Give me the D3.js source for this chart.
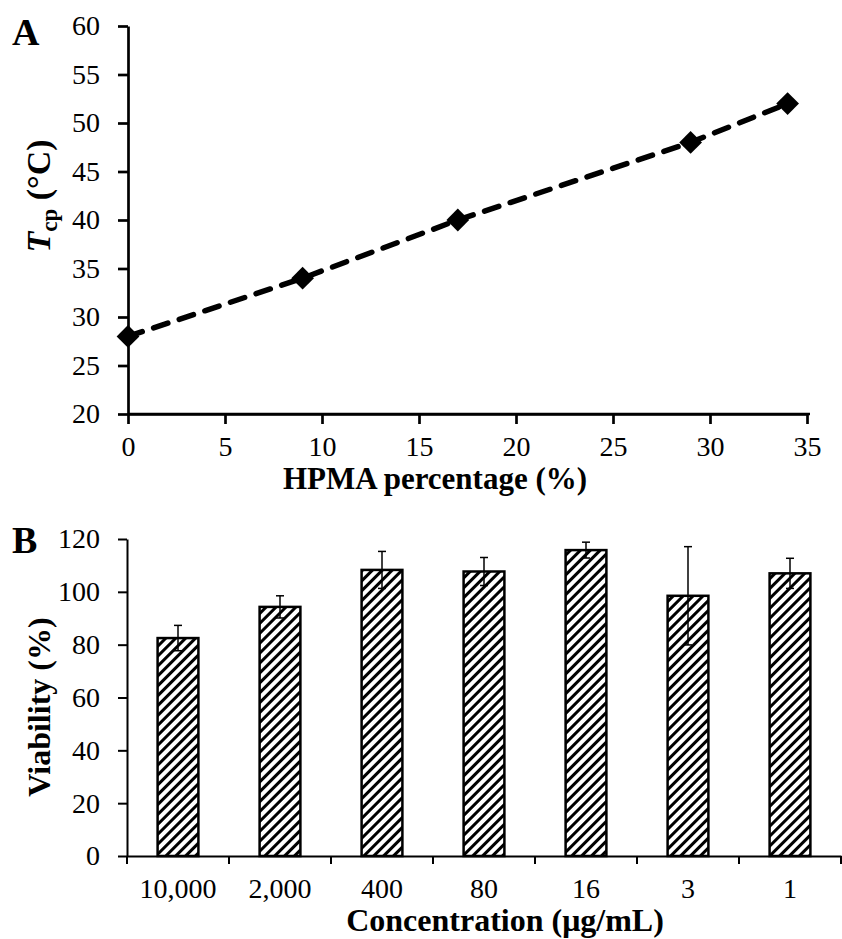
<!DOCTYPE html>
<html>
<head>
<meta charset="utf-8">
<script src="https://cdn.jsdelivr.net/npm/d3@7"></script>
<style>
	body { margin: 0; background: #ffffff; }
	svg text { font-family: "Liberation Serif", "Times New Roman", serif; fill: #000000; }
</style>
</head>
<body>
<svg id="chart_Area" width="842" height="939"></svg>
<script>

/* PANEL A DATA */
var hpma_Percentage = [0, 9, 17, 29, 34];
var cloud_Point = [28, 34, 40, 48, 52];
var a_X_Ticks = [0, 5, 10, 15, 20, 25, 30, 35];
var a_Y_Ticks = [20, 25, 30, 35, 40, 45, 50, 55, 60];

/* PANEL B DATA */
var concentration_Labels = ["10,000", "2,000", "400", "80", "16", "3", "1"];
var viability_Values = [82.5, 94.3, 108.3, 107.7, 115.8, 98.5, 107.0];
var viability_Errors = [4.8, 4.2, 7.0, 5.3, 3.0, 18.6, 5.7];
var b_Y_Ticks = [0, 20, 40, 60, 80, 100, 120];

var svg = d3.select("#chart_Area");

/* hatch fill used by the bars */
var defs = svg.append("defs");
defs.append("pattern")
	.attr("id", "hatch_Fill")
	.attr("patternUnits", "userSpaceOnUse")
	.attr("width", 7)
	.attr("height", 7)
	.attr("patternTransform", "rotate(45)")
	.call(function(pattern){
		pattern.append("rect").attr("width", 7).attr("height", 7).attr("fill", "#ffffff");
		pattern.append("line")
			   .attr("x1", 1.5).attr("x2", 1.5)
			   .attr("y1", 0).attr("y2", 7)
			   .attr("stroke", "#000000")
			   .attr("stroke-width", 3);
	});

/*
	PANEL A : cloud point against HPMA percentage
*/
var a_X = d3.scaleLinear().domain([0, 35]).range([128, 807]);
var a_Y = d3.scaleLinear().domain([20, 60]).range([414, 26]);

var a_X_Axis = svg.append("g")
	.attr("transform", "translate(0," + a_Y(20) + ")")
	.call(d3.axisBottom(a_X).tickValues(a_X_Ticks).tickSize(10).tickSizeOuter(0).tickPadding(12));

var a_Y_Axis = svg.append("g")
	.attr("transform", "translate(" + a_X(0) + ",0)")
	.call(d3.axisLeft(a_Y).tickValues(a_Y_Ticks).tickSize(10).tickSizeOuter(0).tickPadding(18));

[a_X_Axis, a_Y_Axis].forEach(function(axis){
	axis.select(".domain").attr("stroke", "#000000").attr("stroke-width", 2.7);
	axis.selectAll(".tick line").attr("stroke", "#000000").attr("stroke-width", 2.7);
	axis.selectAll(".tick text").style("font-size", "28px").attr("fill", "#000000");
});

/* x axis line reaches a little past last tick */
svg.append("line")
	.attr("x1", a_X(0)).attr("x2", a_X(35) + 3)
	.attr("y1", a_Y(20)).attr("y2", a_Y(20))
	.attr("stroke", "#000000").attr("stroke-width", 2.7);

var a_Points = hpma_Percentage.map(function(value, index){ return [value, cloud_Point[index]]; });

svg.append("path")
	.datum(a_Points)
	.attr("fill", "none")
	.attr("stroke", "#000000")
	.attr("stroke-width", 5.5)
	.attr("stroke-linecap", "round")
	.attr("stroke-dasharray", "15,12")
	.attr("d", d3.line().x(function(d){ return a_X(d[0]); }).y(function(d){ return a_Y(d[1]); }));

svg.selectAll(".diamond_Marker")
	.data(a_Points)
	.enter().append("path")
	.attr("class", "diamond_Marker")
	.attr("fill", "#000000")
	.attr("transform", function(d){ return "translate(" + a_X(d[0]) + "," + a_Y(d[1]) + ")"; })
	.attr("d", d3.symbol().type(d3.symbolDiamond2).size(330));

svg.append("text")
	.attr("x", 12).attr("y", 45)
	.style("font-size", "38px").style("font-weight", "bold")
	.text("A");

svg.append("text")
	.attr("transform", "translate(50,196) rotate(-90)")
	.attr("text-anchor", "middle")
	.style("font-size", "34px").style("font-weight", "bold")
	.call(function(label){
		label.append("tspan").style("font-style", "italic").text("T");
		label.append("tspan").attr("dy", 7).style("font-size", "23px").text("cp");
		label.append("tspan").attr("dy", -7).text(" (°C)");
	});

svg.append("text")
	.attr("x", 435).attr("y", 489)
	.attr("text-anchor", "middle")
	.style("font-size", "31px").style("font-weight", "bold")
	.text("HPMA percentage (%)");

/*
	PANEL B : cell viability against concentration
*/
var b_X = d3.scaleBand().domain(concentration_Labels).range([127, 841]).paddingInner(0.6).paddingOuter(0.3);
var b_Y = d3.scaleLinear().domain([0, 120]).range([856, 539]);

var b_X_Axis = svg.append("g")
	.attr("transform", "translate(0," + b_Y(0) + ")")
	.call(d3.axisBottom(b_X).tickSize(0).tickSizeOuter(0).tickPadding(22));

var b_Y_Axis = svg.append("g")
	.attr("transform", "translate(" + 127 + ",0)")
	.call(d3.axisLeft(b_Y).tickValues(b_Y_Ticks).tickSize(9).tickSizeOuter(0).tickPadding(18));

[b_X_Axis, b_Y_Axis].forEach(function(axis){
	axis.select(".domain").attr("stroke", "#000000").attr("stroke-width", 2);
	axis.selectAll(".tick line").attr("stroke", "#000000").attr("stroke-width", 2);
	axis.selectAll(".tick text").style("font-size", "28px").attr("fill", "#000000");
});

/* category tick marks sit between the bars */
var boundary_Positions = concentration_Labels.map(function(label){
	return b_X(label) - b_X.step() * b_X.paddingOuter();
});
boundary_Positions.push(b_X.range()[1]);

svg.selectAll(".category_Tick")
	.data(boundary_Positions)
	.enter().append("line")
	.attr("class", "category_Tick")
	.attr("x1", function(d){ return d; }).attr("x2", function(d){ return d; })
	.attr("y1", b_Y(0)).attr("y2", b_Y(0) + 8)
	.attr("stroke", "#000000").attr("stroke-width", 2);

svg.selectAll(".viability_Bar")
	.data(viability_Values)
	.enter().append("rect")
	.attr("class", "viability_Bar")
	.attr("x", function(d, i){ return b_X(concentration_Labels[i]); })
	.attr("width", b_X.bandwidth())
	.attr("y", function(d){ return b_Y(d); })
	.attr("height", function(d){ return b_Y(0) - b_Y(d); })
	.attr("fill", "url(#hatch_Fill)")
	.attr("stroke", "#000000")
	.attr("stroke-width", 2.5);

/* error bars */
var error_Group = svg.append("g")
	.attr("stroke", "#000000")
	.attr("stroke-width", 1.5);

viability_Values.forEach(function(value, index){
	var centre = b_X(concentration_Labels[index]) + b_X.bandwidth() / 2;
	var high = b_Y(value + viability_Errors[index]);
	var low = b_Y(value - viability_Errors[index]);

	error_Group.append("line").attr("x1", centre).attr("x2", centre).attr("y1", high).attr("y2", low);
	error_Group.append("line").attr("x1", centre - 4).attr("x2", centre + 4).attr("y1", high).attr("y2", high);
	error_Group.append("line").attr("x1", centre - 4).attr("x2", centre + 4).attr("y1", low).attr("y2", low);
});

svg.append("text")
	.attr("x", 12).attr("y", 553)
	.style("font-size", "38px").style("font-weight", "bold")
	.text("B");

svg.append("text")
	.attr("transform", "translate(50,707) rotate(-90)")
	.attr("text-anchor", "middle")
	.style("font-size", "32px").style("font-weight", "bold")
	.text("Viability (%)");

svg.append("text")
	.attr("x", 505).attr("y", 931)
	.attr("text-anchor", "middle")
	.style("font-size", "32px").style("font-weight", "bold")
	.text("Concentration (μg/mL)");

</script>
</body>
</html>
